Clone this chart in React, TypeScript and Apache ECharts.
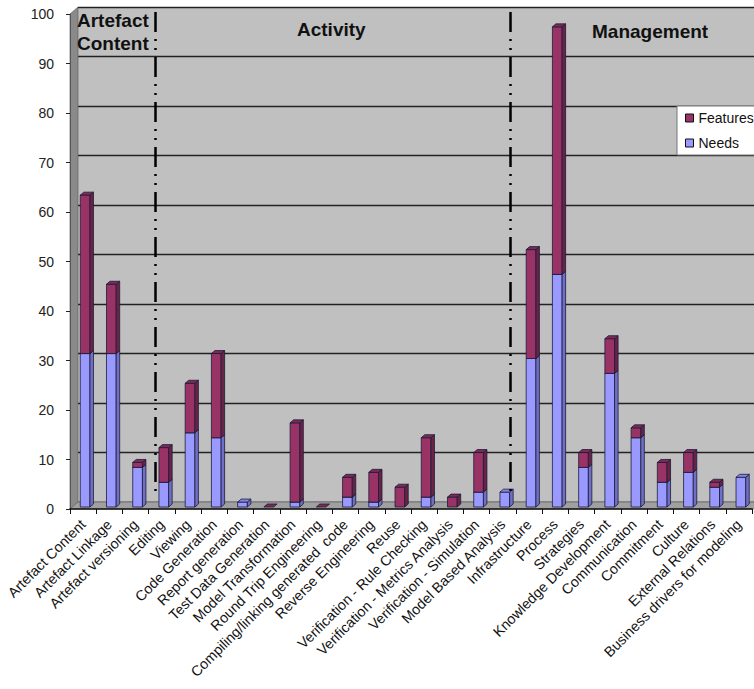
import React, { useEffect, useRef } from "react";
import * as echarts from "echarts";

const categories = [
  "Artefact Content",
  "Artefact Linkage",
  "Artefact versioning",
  "Editing",
  "Viewing",
  "Code Generation",
  "Report generation",
  "Test Data Generation",
  "Model Transformation",
  "Round Trip Engineering",
  "Compiling/linking generated  code",
  "Reverse Engineering",
  "Reuse",
  "Verification - Rule Checking",
  "Verification - Metrics Analysis",
  "Verification - Simulation",
  "Model Based Analysis",
  "Infrastructure",
  "Process",
  "Strategies",
  "Knowledge Development",
  "Communication",
  "Commitment",
  "Culture",
  "External Relations",
  "Business drivers for modeling",
];

const needs = [31, 31, 8, 5, 15, 14, 1, 0, 1, 0, 2, 1, 0, 2, 0, 3, 3, 30, 47, 8, 27, 14, 5, 7, 4, 6];
const features = [32, 14, 1, 7, 10, 17, 0, 0, 16, 0, 4, 6, 4, 12, 2, 8, 0, 22, 50, 3, 7, 2, 4, 4, 1, 0];

const yTicks = { min: 0, max: 100, interval: 10 };
const sectionTitles = ["Artefact\nContent", "Activity", "Management"];
const dividerPositions = [2.97, 16.62];

const FONT = "Arial, 'Liberation Sans', sans-serif";

function makeRender(front: string, side: string, top: string, allowFlat: boolean) {
  return (params: any, api: any) => {
    const idx = api.value(0);
    const lo = api.value(1);
    const hi = api.value(2);
    const flat = hi - lo <= 0;
    if (flat && !(allowFlat && lo === 0)) return null;
    const p0 = api.coord([idx, lo]);
    const p1 = api.coord([idx, hi]);
    const bw = api.size([1, 0])[0] * 0.37;
    const cx = p0[0] + 2;
    const xl = cx - bw / 2;
    const xr = cx + bw / 2;
    const yb = p0[1] - 2;
    const yt = p1[1] - 2;
    const dx = 3.5;
    const dy = 3;
    const stroke = "#1c1c3a";
    const children: any[] = [];
    if (!flat) {
      children.push({
        type: "rect",
        shape: { x: xl, y: yt, width: xr - xl, height: yb - yt },
        style: { fill: front, stroke, lineWidth: 0.8 },
      });
      children.push({
        type: "polygon",
        shape: { points: [[xr, yt], [xr + dx, yt - dy], [xr + dx, yb - dy], [xr, yb]] },
        style: { fill: side, stroke, lineWidth: 0.8 },
      });
    }
    children.push({
      type: "polygon",
      shape: { points: [[xl, yt], [xl + dx, yt - dy], [xr + dx, yt - dy], [xr, yt]] },
      style: { fill: top, stroke, lineWidth: 0.8 },
    });
    return { type: "group", children };
  };
}

export default function App() {
  const ref = useRef<HTMLDivElement>(null);

  useEffect(() => {
    if (!ref.current) return;
    const chart = echarts.init(ref.current, undefined, { renderer: "svg" });

    const needsData = categories.map((_, i) => [i, 0, needs[i]]);
    const featuresData = categories.map((_, i) => [i, needs[i], needs[i] + features[i]]);

    const option: any = {
      animation: false,
      backgroundColor: "#ffffff",
      textStyle: { fontFamily: FONT },
      grid: [
        { left: 70, right: 2, top: 14, bottom: 180, containLabel: false },
        {
          left: 78,
          right: -6,
          top: 7,
          bottom: 187,
          show: true,
          backgroundColor: "#c0c0c0",
          borderWidth: 0,
          z: 0,
        },
      ],
      xAxis: [
        {
          type: "category",
          gridIndex: 0,
          data: categories,
          boundaryGap: true,
          axisLine: { show: true, lineStyle: { color: "#111", width: 1.5 } },
          axisTick: { show: true, length: 5, lineStyle: { color: "#111" } },
          axisLabel: {
            rotate: 45,
            interval: 0,
            fontSize: 14.3,
            color: "#111",
            margin: 13,
            fontFamily: FONT,
          },
          splitLine: { show: false },
          z: 5,
        },
        {
          type: "value",
          gridIndex: 1,
          min: 0,
          max: 26,
          show: false,
        },
      ],
      yAxis: [
        {
          type: "value",
          gridIndex: 0,
          min: yTicks.min,
          max: yTicks.max,
          interval: yTicks.interval,
          axisLine: { show: true, lineStyle: { color: "#555", width: 1 } },
          axisTick: { show: true, length: 4, lineStyle: { color: "#222" } },
          axisLabel: { fontSize: 14, color: "#222", margin: 16, fontFamily: FONT },
          splitLine: { show: false },
          z: 5,
        },
        {
          type: "value",
          gridIndex: 1,
          min: yTicks.min,
          max: yTicks.max,
          interval: yTicks.interval,
          axisLine: { show: false },
          axisTick: { show: false },
          axisLabel: { show: false },
          splitLine: { show: true, lineStyle: { color: "#222", width: 1.3 } },
        },
      ],
      legend: {
        orient: "vertical",
        left: 677,
        top: 106,
        backgroundColor: "#ffffff",
        borderColor: "#777",
        borderWidth: 1,
        borderRadius: 0,
        padding: [5, 20, 5, 8],
        itemWidth: 8,
        itemHeight: 8,
        itemGap: 11,
        textStyle: { fontSize: 14, color: "#111", fontFamily: FONT },
        data: [
          { name: "Features", icon: "rect", itemStyle: { color: "#993366", borderColor: "#111", borderWidth: 1 } },
          { name: "Needs", icon: "rect", itemStyle: { color: "#9999ff", borderColor: "#111", borderWidth: 1 } },
        ],
      },
      graphic: [
        {
          type: "polygon",
          z: 1,
          silent: true,
          shape: { points: [[70, 14], [78, 7], [78, 502], [70, 509]] },
          style: { fill: "#8a8a8a", stroke: "#555", lineWidth: 0.6 },
        },
        {
          type: "polygon",
          z: 1,
          silent: true,
          shape: { points: [[70, 509], [78, 502], [760, 502], [754, 509]] },
          style: { fill: "#a0a0a0", stroke: "#555", lineWidth: 0.6 },
        },
        {
          type: "text",
          z: 10,
          left: 77,
          top: 9,
          style: {
            text: sectionTitles[0],
            font: `bold 19px ${FONT}`,
            fill: "#111",
            lineHeight: 23,
          },
        },
        {
          type: "text",
          z: 10,
          left: 297,
          top: 20,
          style: { text: sectionTitles[1], font: `bold 19px ${FONT}`, fill: "#111" },
        },
        {
          type: "text",
          z: 10,
          left: 592,
          top: 22,
          style: { text: sectionTitles[2], font: `bold 19px ${FONT}`, fill: "#111" },
        },
      ],
      series: [
        {
          name: "Needs",
          type: "custom",
          xAxisIndex: 0,
          yAxisIndex: 0,
          renderItem: makeRender("#9999ff", "#6f6fc8", "#8585e6", false),
          itemStyle: { color: "#9999ff" },
          encode: { x: 0, y: [1, 2] },
          data: needsData,
          z: 3,
        },
        {
          name: "Features",
          type: "custom",
          xAxisIndex: 0,
          yAxisIndex: 0,
          renderItem: makeRender("#993366", "#6a2246", "#7d2a55", true),
          itemStyle: { color: "#993366" },
          encode: { x: 0, y: [1, 2] },
          data: featuresData,
          z: 4,
        },
        {
          name: "dividers",
          type: "line",
          xAxisIndex: 1,
          yAxisIndex: 1,
          data: [],
          silent: true,
          z: 2,
          markLine: {
            silent: true,
            symbol: ["none", "none"],
            label: { show: false },
            lineStyle: { color: "#000", width: 2.5, type: [20, 7, 2, 7, 2, 7] },
            data: dividerPositions.map((p) => [
              { xAxis: p, yAxis: 99 },
              { xAxis: p, yAxis: 2 },
            ]),
          },
        },
      ],
    };

    chart.setOption(option);
    return () => chart.dispose();
  }, []);

  return (
    <div
      ref={ref}
      style={{ position: "fixed", left: 0, top: 0, width: 754, height: 689, background: "#fff" }}
    />
  );
}
